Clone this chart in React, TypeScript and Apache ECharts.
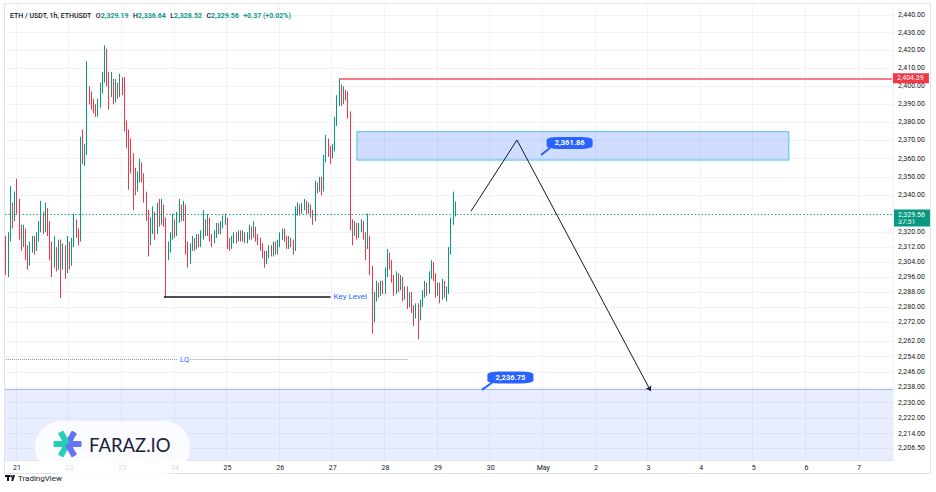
import React, { useEffect, useRef } from 'react';
import * as echarts from 'echarts';

// ---- axis / tick data ----
const dayLabels = ['21', '22', '23', '24', '25', '26', '27', '28', '29', '30', 'May', '2', '3', '4', '5', '6', '7'];
const FIRST_DAY_INDEX = 5; // first candle = 20 Apr 19:00, index 5 = 21 Apr 00:00
const HOURS = 405;
const yTicks = [2440, 2430, 2420, 2410, 2400, 2390, 2380, 2370, 2360, 2350, 2340, 2320, 2312, 2304, 2296, 2288, 2280, 2272, 2262, 2254, 2246, 2238, 2230, 2222, 2214, 2206.5];
const yMin = 2200.5;
const yMax = 2445.7;

// ---- candles: [open, close, low, high] (1h ETH/USDT) ----
const candles: number[][] = [
  [2316, 2300, 2297, 2318], [2300, 2317, 2296, 2320], [2317, 2333, 2315, 2345], [2333, 2328, 2322, 2336],
  [2328, 2338, 2326, 2342], [2338, 2336, 2330, 2349], [2336, 2320, 2316, 2338], [2320, 2314, 2310, 2324],
  [2314, 2320, 2312, 2324], [2320, 2311, 2305, 2322], [2311, 2306, 2300, 2313], [2306, 2312, 2302, 2315],
  [2312, 2315, 2309, 2318], [2315, 2312, 2308, 2318], [2312, 2318, 2310, 2320], [2318, 2322, 2315, 2326],
  [2322, 2327, 2320, 2337], [2327, 2322, 2319, 2331], [2322, 2331, 2320, 2336], [2331, 2322, 2318, 2333],
  [2322, 2312, 2305, 2326], [2312, 2304, 2296, 2315], [2304, 2310, 2301, 2318], [2310, 2303, 2299, 2312],
  [2303, 2309, 2300, 2316], [2309, 2305, 2285, 2316], [2305, 2311, 2300, 2314], [2311, 2300, 2295, 2313],
  [2300, 2312, 2298, 2318], [2312, 2304, 2300, 2315], [2304, 2314, 2302, 2317], [2314, 2324, 2312, 2330],
  [2324, 2320, 2317, 2327], [2320, 2317, 2313, 2322], [2317, 2366, 2315, 2372], [2366, 2360, 2357, 2376],
  [2360, 2365, 2356, 2368], [2365, 2397, 2362, 2414], [2397, 2394, 2390, 2400], [2394, 2390, 2387, 2397],
  [2390, 2387, 2385, 2393], [2387, 2385, 2383, 2390], [2385, 2390, 2383, 2393], [2390, 2398, 2388, 2402],
  [2398, 2404, 2396, 2408], [2404, 2417, 2402, 2423], [2417, 2405, 2400, 2421], [2405, 2398, 2387, 2408],
  [2398, 2402, 2394, 2408], [2402, 2394, 2390, 2404], [2394, 2400, 2391, 2404], [2400, 2396, 2393, 2402],
  [2396, 2403, 2394, 2407], [2403, 2398, 2395, 2405], [2398, 2378, 2375, 2405], [2378, 2372, 2366, 2381],
  [2372, 2368, 2343, 2376], [2368, 2360, 2352, 2371], [2360, 2352, 2332, 2363], [2352, 2345, 2340, 2355],
  [2345, 2350, 2342, 2353], [2350, 2356, 2347, 2360], [2356, 2350, 2347, 2358], [2350, 2340, 2336, 2352],
  [2340, 2330, 2326, 2342], [2330, 2316, 2307, 2332], [2316, 2322, 2313, 2328], [2322, 2329, 2319, 2334],
  [2329, 2321, 2316, 2331], [2321, 2332, 2319, 2336], [2332, 2326, 2323, 2338], [2326, 2333, 2324, 2338],
  [2333, 2326, 2323, 2335], [2326, 2310, 2285, 2328], [2310, 2312, 2305, 2315], [2312, 2318, 2309, 2320],
  [2318, 2325, 2316, 2330], [2325, 2320, 2317, 2327], [2320, 2328, 2318, 2331], [2328, 2332, 2325, 2338],
  [2332, 2328, 2326, 2335], [2328, 2333, 2326, 2337], [2333, 2313, 2308, 2335], [2313, 2306, 2301, 2315],
  [2306, 2312, 2303, 2314], [2312, 2315, 2310, 2318], [2315, 2313, 2310, 2317], [2313, 2317, 2311, 2319],
  [2317, 2314, 2312, 2319], [2314, 2318, 2312, 2321], [2318, 2325, 2316, 2332], [2325, 2320, 2318, 2327],
  [2320, 2326, 2318, 2330], [2326, 2317, 2315, 2328], [2317, 2316, 2312, 2319], [2316, 2319, 2314, 2321],
  [2319, 2323, 2317, 2325], [2323, 2321, 2319, 2325], [2321, 2324, 2319, 2326], [2324, 2326, 2322, 2329],
  [2326, 2327, 2324, 2330], [2327, 2315, 2311, 2328], [2315, 2313, 2310, 2317], [2313, 2316, 2311, 2318],
  [2316, 2318, 2314, 2320], [2318, 2316, 2314, 2320], [2316, 2319, 2315, 2321], [2319, 2317, 2315, 2321],
  [2317, 2319, 2315, 2321], [2319, 2316, 2314, 2320], [2316, 2318, 2314, 2320], [2318, 2321, 2316, 2324],
  [2321, 2318, 2316, 2323], [2318, 2322, 2317, 2326], [2322, 2317, 2315, 2323], [2317, 2316, 2313, 2319],
  [2316, 2312, 2310, 2317], [2312, 2308, 2306, 2314], [2308, 2305, 2301, 2310], [2305, 2308, 2303, 2310],
  [2308, 2311, 2306, 2313], [2311, 2309, 2307, 2313], [2309, 2313, 2307, 2315], [2313, 2310, 2308, 2315],
  [2310, 2314, 2308, 2316], [2314, 2318, 2312, 2320], [2318, 2320, 2316, 2322], [2320, 2317, 2315, 2322],
  [2317, 2313, 2311, 2318], [2313, 2316, 2311, 2318], [2316, 2314, 2312, 2317], [2314, 2311, 2308, 2316],
  [2311, 2331, 2310, 2334], [2331, 2333, 2329, 2336], [2333, 2331, 2329, 2335], [2331, 2334, 2330, 2336],
  [2334, 2335, 2332, 2338], [2335, 2332, 2330, 2337], [2332, 2334, 2330, 2336], [2334, 2330, 2328, 2335],
  [2330, 2327, 2324, 2332], [2327, 2345, 2326, 2348], [2345, 2344, 2341, 2347], [2344, 2348, 2342, 2350],
  [2348, 2343, 2340, 2350], [2343, 2360, 2342, 2362], [2360, 2369, 2358, 2373], [2369, 2364, 2361, 2371],
  [2364, 2363, 2357, 2367], [2363, 2366, 2360, 2368], [2366, 2380, 2364, 2383], [2380, 2392, 2378, 2395],
  [2392, 2396, 2389, 2404.39], [2396, 2392, 2389, 2401], [2392, 2396, 2390, 2400], [2396, 2395, 2392, 2398],
  [2395, 2384, 2382, 2397], [2384, 2325, 2321, 2386], [2325, 2320, 2313, 2327], [2320, 2323, 2318, 2326],
  [2323, 2319, 2316, 2325], [2319, 2323, 2317, 2325], [2323, 2324, 2320, 2327], [2324, 2318, 2316, 2326],
  [2318, 2313, 2305, 2320], [2313, 2316, 2311, 2330], [2316, 2300, 2297, 2318], [2300, 2275, 2266, 2302],
  [2275, 2285, 2272, 2288], [2285, 2291, 2283, 2294], [2291, 2288, 2285, 2293], [2288, 2292, 2286, 2294],
  [2292, 2289, 2287, 2294], [2289, 2298, 2287, 2301], [2298, 2307, 2296, 2311], [2307, 2303, 2300, 2309],
  [2303, 2295, 2293, 2305], [2295, 2289, 2286, 2297], [2289, 2296, 2287, 2299], [2296, 2291, 2288, 2298],
  [2291, 2294, 2289, 2297], [2294, 2286, 2283, 2296], [2286, 2289, 2284, 2291], [2289, 2282, 2279, 2291],
  [2282, 2286, 2280, 2288], [2286, 2279, 2277, 2288], [2279, 2276, 2270, 2281], [2276, 2280, 2274, 2282],
  [2280, 2275, 2263, 2282], [2275, 2282, 2273, 2284], [2282, 2287, 2280, 2289], [2287, 2291, 2285, 2294],
  [2291, 2289, 2286, 2293], [2289, 2297, 2287, 2299], [2297, 2302, 2295, 2305], [2302, 2296, 2294, 2304],
  [2296, 2288, 2285, 2298], [2288, 2291, 2286, 2293], [2291, 2286, 2282, 2293], [2286, 2292, 2284, 2295],
  [2292, 2288, 2285, 2294], [2288, 2289, 2283, 2291], [2289, 2310, 2287, 2312], [2310, 2326, 2308, 2328],
  [2326, 2330, 2324, 2342], [2329.19, 2329.56, 2328.52, 2336.64],
];

// ---- header ----
const headerTitle = 'ETH / USDT, 1h, ETHUSDT';
const headerOHLC = ['2,329.19', '2,336.64', '2,328.52', '2,329.56'];
const headerChange = '+0.37 (+0.02%)';

// ---- annotations ----
const resistanceLevel = 2404.39;
const resistanceStart = 152;
const lastPrice = 2329.56;
const countdown = '37:51';
const supplyZone = { x0: 160, x1: 357, top: 2374.8, bottom: 2359.2 };
const demandZoneTop = 2236.75;
const keyLevel = 2285.4;
const keyLevelRange = [72, 148];
const lqLevel = 2252.7;
const lqRanges = [[0, 78], [84, 183]];
const projX = [212, 233, 294];
const projY = [2331.3, 2370.2, 2236.0];
const calloutText = ['2,361.86', '2,236.75'];
const calloutX = [257, 230];
const calloutY = [2368.6, 2243.1];
const tailFrom = [[248, 2365.8], [222, 2240.7]];
const tailTo = [[244, 2362.0], [217, 2236.6]];

const UP = '#089981';
const DOWN = '#f23645';
const BLUE = '#2962ff';
const TEXT = '#131722';
const FONT = 'Roboto, "Noto Sans", sans-serif';
const FS = 7;

const fmt = (v: number) => v.toLocaleString('en-US', { minimumFractionDigits: 2, maximumFractionDigits: 2 });

const categories = Array.from({ length: HOURS }, (_, i) => String(i));
const isDay = (i: number) => i >= FIRST_DAY_INDEX && (i - FIRST_DAY_INDEX) % 24 === 0;

function buildOption(): any {
  const annotationLines: any[] = [];
  annotationLines.push([
    {
      coord: [resistanceStart, resistanceLevel],
      lineStyle: { color: '#f0535f', width: 1.5, type: 'solid' },
      label: {
        show: true, position: 'end', distance: 1, formatter: fmt(resistanceLevel), width: 29,
        backgroundColor: DOWN, color: '#fff', padding: [2, 3, 1, 4], fontSize: FS, fontFamily: FONT,
      },
    },
    { coord: [HOURS - 1, resistanceLevel] },
  ]);
  // countdown part of the price tag (drawn first, below the price part)
  annotationLines.push({
    yAxis: lastPrice,
    lineStyle: { color: 'rgba(0,0,0,0)', width: 0 },
    label: {
      show: true, position: 'end', distance: 1, formatter: countdown, width: 29, verticalAlign: 'top',
      backgroundColor: UP, color: '#fff', padding: [4, 3, 1, 4], fontSize: FS, fontFamily: FONT,
    },
  });
  annotationLines.push({
    yAxis: lastPrice,
    lineStyle: { color: '#1ba38c', width: 1, type: [1.5, 2] },
    label: {
      show: true, position: 'end', distance: 1, formatter: fmt(lastPrice), width: 29,
      backgroundColor: UP, color: '#fff', padding: [2, 3, 1, 4], fontSize: FS, fontFamily: FONT,
    },
  });
  annotationLines.push({
    yAxis: demandZoneTop,
    lineStyle: { color: '#9fb6f6', width: 1, type: 'solid' },
    label: { show: false },
  });
  annotationLines.push([
    {
      coord: [keyLevelRange[0], keyLevel],
      lineStyle: { color: TEXT, width: 1.5, type: 'solid' },
      label: { show: true, position: 'end', distance: 3, formatter: 'Key Level', color: BLUE, fontSize: 8, fontFamily: FONT },
    },
    { coord: [keyLevelRange[1], keyLevel] },
  ]);
  lqRanges.forEach((r, k) => {
    annotationLines.push([
      {
        coord: [r[0], lqLevel],
        lineStyle: { color: '#9598a1', width: 1, type: 'dotted' },
        label: k === 0
          ? { show: true, position: 'end', distance: 3, formatter: 'LQ', color: BLUE, fontSize: 7.5, fontFamily: FONT }
          : { show: false },
      },
      { coord: [r[1], lqLevel] },
    ]);
  });
  for (let k = 0; k < projX.length - 1; k++) {
    const last = k === projX.length - 2;
    annotationLines.push([
      { coord: [projX[k], projY[k]], lineStyle: { color: TEXT, width: 1, type: 'solid' }, label: { show: false } },
      last
        ? { coord: [projX[k + 1], projY[k + 1]], symbol: 'arrow', symbolSize: 5 }
        : { coord: [projX[k + 1], projY[k + 1]] },
    ]);
  }
  tailFrom.forEach((f, k) => {
    annotationLines.push([
      { coord: f, lineStyle: { color: BLUE, width: 2, type: 'solid' }, label: { show: false } },
      { coord: tailTo[k] },
    ]);
  });

  return {
    animation: false,
    backgroundColor: '#ffffff',
    textStyle: { fontFamily: FONT },
    title: {
      left: 10, top: 7, padding: 0,
      text: `{d|${headerTitle}} {d|O}{g|${headerOHLC[0]}} {d|H}{g|${headerOHLC[1]}} {d|L}{g|${headerOHLC[2]}} {d|C}{g|${headerOHLC[3]}} {g|${headerChange}}`,
      textStyle: {
        rich: {
          d: { color: TEXT, fontSize: FS, fontWeight: 500, fontFamily: FONT },
          g: { color: UP, fontSize: FS, fontFamily: FONT },
        },
      },
    },
    grid: { left: 5, right: 43, top: 5, bottom: 32, outerBoundsMode: 'none' },
    xAxis: {
      type: 'category',
      data: categories,
      boundaryGap: true,
      axisLine: { show: true, lineStyle: { color: '#e0e3eb' } },
      axisTick: { show: false },
      axisLabel: {
        interval: (i: number) => isDay(i),
        formatter: (_v: string, i: number) => dayLabels[(i - FIRST_DAY_INDEX) / 24] ?? '',
        color: TEXT, fontSize: FS, margin: 4, fontFamily: FONT,
      },
      splitLine: { show: true, interval: (i: number) => isDay(i), lineStyle: { color: '#f0f3fa', width: 1 } },
    },
    yAxis: {
      type: 'log',
      logBase: 10,
      min: yMin,
      max: yMax,
      position: 'right',
      axisLine: { show: false },
      axisTick: { show: false },
      axisLabel: { show: false },
      splitLine: { show: false },
    },
    series: [
      {
        type: 'line',
        data: [],
        silent: true,
        markLine: {
          silent: true,
          symbol: ['none', 'none'],
          z: 0,
          lineStyle: { color: '#f0f3fa', width: 1, type: 'solid' },
          label: {
            show: true, position: 'end', distance: 5, color: TEXT, fontSize: FS, fontFamily: FONT,
            formatter: (p: any) => fmt(p.value),
          },
          emphasis: { disabled: true },
          data: yTicks.map((v) => ({ yAxis: v })),
        },
        markArea: {
          silent: true,
          data: [
            [
              { yAxis: demandZoneTop, itemStyle: { color: 'rgba(41,98,255,0.11)', borderWidth: 0 } },
              { yAxis: yMin },
            ],
            [
              { xAxis: supplyZone.x0, yAxis: supplyZone.top, itemStyle: { color: 'rgba(41,98,255,0.22)', borderColor: '#4cc3e3', borderWidth: 1 } },
              { xAxis: supplyZone.x1, yAxis: supplyZone.bottom },
            ],
          ],
        },
      },
      {
        type: 'candlestick',
        data: candles,
        barWidth: 1,
        z: 3,
        itemStyle: { color: UP, color0: DOWN, borderColor: UP, borderColor0: DOWN, borderWidth: 1 },
      },
      {
        type: 'line',
        data: [],
        silent: true,
        z: 5,
        markLine: {
          silent: true,
          symbol: ['none', 'none'],
          label: { show: false },
          emphasis: { disabled: true },
          data: annotationLines,
        },
        markPoint: {
          silent: true,
          symbol: 'roundRect',
          symbolSize: [46, 12],
          itemStyle: { color: BLUE },
          label: { show: true, position: 'inside', formatter: '{b}', color: '#fff', fontSize: 7.5, fontWeight: 'bold', fontFamily: FONT },
          data: calloutText.map((t, k) => ({ name: t, coord: [calloutX[k], calloutY[k]] })),
        },
      },
    ],
    graphic: [
      { type: 'rect', z: 100, silent: true, shape: { x: 4.5, y: 3.5, width: 926, height: 470 }, style: { fill: 'none', stroke: '#e0e3eb', lineWidth: 1 } },
      { type: 'rect', z: 100, silent: true, shape: { x: 35, y: 421, width: 155, height: 53, r: 26 }, style: { fill: 'rgba(255,255,255,0.82)' } },
      ...[0, 60, 120, 180, 240, 300].map((deg) => ({
        type: 'rect', z: 101, silent: true,
        x: 67.5, y: 444,
        rotation: (deg * Math.PI) / 180,
        shape: { x: 0, y: -3, width: 14, height: 6, r: 1 },
        style: { fill: deg >= 120 && deg <= 240 ? '#27cdb9' : '#6574f2' },
      })),
      {
        type: 'text', z: 101, silent: true, x: 89, y: 445,
        style: { text: 'FARAZ.IO', fill: '#1c2140', fontSize: 18.5, fontFamily: 'Lato, Inter, sans-serif', fontWeight: 400, verticalAlign: 'middle' },
      },
      { type: 'rect', z: 100, silent: true, shape: { x: 5, y: 475, width: 5, height: 2 }, style: { fill: TEXT } },
      { type: 'rect', z: 100, silent: true, shape: { x: 7, y: 475, width: 2, height: 6 }, style: { fill: TEXT } },
      { type: 'circle', z: 100, silent: true, shape: { cx: 11.3, cy: 476.3, r: 1.2 }, style: { fill: TEXT } },
      { type: 'polygon', z: 100, silent: true, shape: { points: [[12.8, 475], [15, 475], [13.2, 481], [11.2, 481]] }, style: { fill: TEXT } },
      {
        type: 'text', z: 100, silent: true, x: 18, y: 478,
        style: { text: 'TradingView', fill: TEXT, fontSize: 8, fontFamily: FONT, verticalAlign: 'middle' },
      },
    ],
  };
}

export default function App() {
  const ref = useRef<HTMLDivElement>(null);
  useEffect(() => {
    if (!ref.current) return;
    const chart = echarts.init(ref.current, null, { renderer: 'svg' });
    chart.setOption(buildOption());
    return () => chart.dispose();
  }, []);
  return (
    <div
      ref={ref}
      style={{ position: 'absolute', left: 0, top: 0, width: 936, height: 492, background: '#fff' }}
    />
  );
}
